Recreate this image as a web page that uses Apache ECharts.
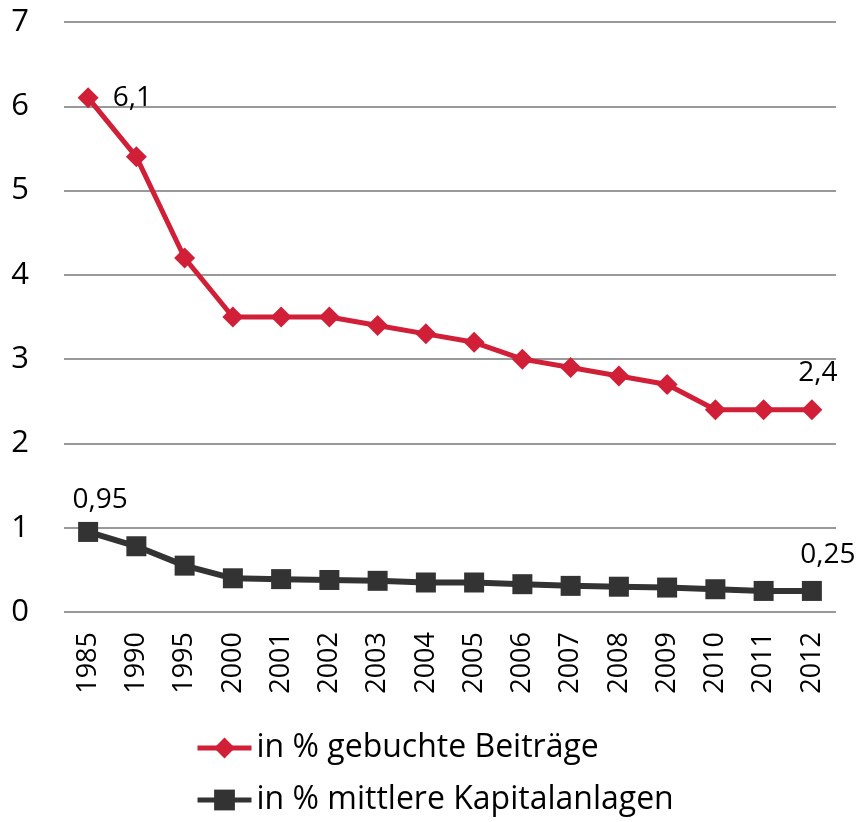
<!DOCTYPE html>
<html>
<head>
<meta charset="utf-8">
<script src="https://cdn.jsdelivr.net/npm/echarts@6/dist/echarts.min.js"></script>
<style>
	html, body { margin: 0; padding: 0; background: #fff; }
	#chart { width: 857px; height: 822px; }
</style>
</head>
<body>
<div id="chart"></div>
<script>
var years = ['1985', '1990', '1995', '2000', '2001', '2002', '2003', '2004', '2005', '2006', '2007', '2008', '2009', '2010', '2011', '2012'];
var beitraege = [6.1, 5.4, 4.2, 3.5, 3.5, 3.5, 3.4, 3.3, 3.2, 3.0, 2.9, 2.8, 2.7, 2.4, 2.4, 2.4];
var kapital = [0.95, 0.78, 0.55, 0.40, 0.39, 0.38, 0.37, 0.35, 0.35, 0.33, 0.31, 0.30, 0.29, 0.27, 0.25, 0.25];
var names = ['in % gebuchte Beiträge', 'in % mittlere Kapitalanlagen'];

var font = '"Open Sans", "Noto Sans", sans-serif';
var last = years.length - 1;

function fmt(p) {
	return String(p.value).replace('.', ',');
}

// only first and last point get a value label
function withLabels(arr, firstLabel, lastLabel) {
	return arr.map(function(v, i) {
		if (i === 0) return { value: v, label: firstLabel };
		if (i === last) return { value: v, label: lastLabel };
		return v;
	});
}

var labelBase = {
	show: false,
	fontSize: 28,
	color: '#000',
	fontFamily: font,
	formatter: fmt
};

var chart = echarts.init(document.getElementById('chart'));
chart.setOption({
	animation: false,
	textStyle: { fontFamily: font },
	grid: {
		left: 64,
		top: 22,
		width: 772,
		height: 590
	},
	legend: {
		orient: 'vertical',
		left: 195,
		top: 730,
		padding: 0,
		itemGap: 16,
		itemWidth: 54,
		itemHeight: 26,
		lineStyle: { width: 5 },
		textStyle: { fontSize: 32, lineHeight: 36, color: '#000', fontFamily: font },
		data: names
	},
	xAxis: {
		type: 'category',
		data: years,
		boundaryGap: true,
		axisLine: { show: false },
		axisTick: { show: false },
		axisLabel: {
			rotate: 90,
			fontSize: 27,
			color: '#000',
			margin: 20,
			fontFamily: font
		}
	},
	yAxis: {
		type: 'value',
		min: 0,
		max: 7,
		interval: 1,
		axisLine: { show: false },
		axisTick: { show: false },
		axisLabel: {
			fontSize: 31,
			color: '#000',
			margin: 44,
			align: 'center',
			fontFamily: font
		},
		splitLine: { lineStyle: { color: '#999', width: 2 } }
	},
	series: [{
		name: names[0],
		type: 'line',
		data: withLabels(beitraege,
			{ show: true, position: 'right', distance: 14 },
			{ show: true, position: 'top', distance: 12, offset: [6, 0] }),
		symbol: 'diamond',
		symbolSize: 21,
		itemStyle: { color: '#D11F38' },
		lineStyle: { color: '#D11F38', width: 5 },
		label: labelBase
	}, {
		name: names[1],
		type: 'line',
		data: withLabels(kapital,
			{ show: true, position: 'top', distance: 8, offset: [12, 0] },
			{ show: true, position: 'top', distance: 12, offset: [16, 0] }),
		symbol: 'rect',
		symbolSize: 20,
		itemStyle: { color: '#333333' },
		lineStyle: { color: '#333333', width: 6 },
		label: labelBase
	}]
});
</script>
</body>
</html>
